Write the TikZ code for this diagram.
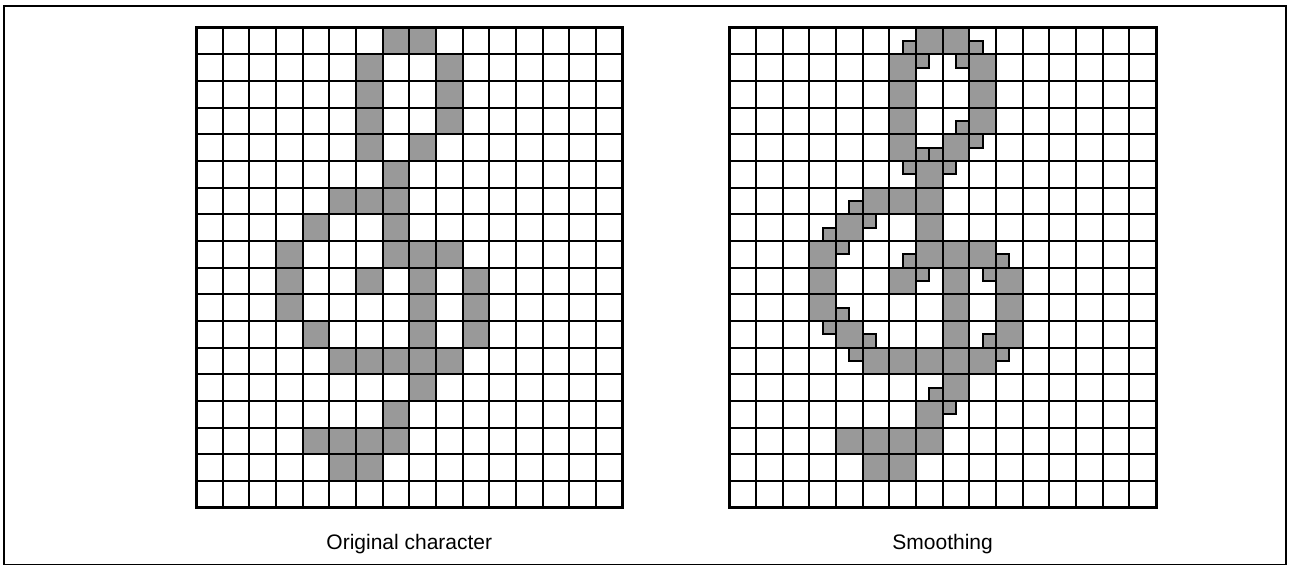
\documentclass[tikz,border=0pt]{standalone}
\usepackage{fontspec}
\setmainfont{Liberation Sans}
\colorlet{pixgray}{black!40}
\tikzset{
  pix/.style={fill=pixgray},
  subpix/.style={fill=pixgray, draw=black, line width=1.1pt},
  gridlines/.style={draw=black, line width=1.1pt},
  gridborder/.style={draw=black, line width=1.6pt},
  caption/.style={font=\fontsize{11.2}{13}\selectfont}
}
\begin{document}
\begin{tikzpicture}[x=0.5cm, y=0.5cm]
    \useasboundingbox (0,0) rectangle (48.375,21.3);
    \draw[line width=1pt] (0.15,0.13) rectangle (48.23,21.08);

    \begin{scope}[shift={(7.35,20.26)}, yscale=-1]
        \foreach \c/\r in {7/0,8/0,6/1,9/1,6/2,9/2,6/3,9/3,6/4,8/4,7/5,5/6,6/6,7/6,4/7,7/7,
                           3/8,7/8,8/8,9/8,3/9,6/9,8/9,10/9,3/10,8/10,10/10,4/11,8/11,10/11,
                           5/12,6/12,7/12,8/12,9/12,8/13,7/14,4/15,5/15,6/15,7/15,5/16,6/16}
            \fill[pix] (\c,\r) rectangle ++(1,1);
        \draw[gridlines, step=0.5cm] (0,0) grid (16,18);
        \draw[gridborder] (0,0) rectangle (16,18);
    \end{scope}

    \begin{scope}[shift={(27.35,20.26)}, yscale=-1]
        \foreach \c/\r in {7/0,8/0,6/1,9/1,6/2,9/2,6/3,9/3,6/4,8/4,7/5,5/6,6/6,7/6,4/7,7/7,
                           3/8,7/8,8/8,9/8,3/9,6/9,8/9,10/9,3/10,8/10,10/10,4/11,8/11,10/11,
                           5/12,6/12,7/12,8/12,9/12,8/13,7/14,4/15,5/15,6/15,7/15,5/16,6/16}
            \fill[pix] (\c,\r) rectangle ++(1,1);
        \foreach \x/\y in {6.5/0.5,9/0.5,7/1,8.5/1,8.5/3.5,9/4,7/4.5,7.5/4.5,6.5/5,8/5,
                           4.5/6.5,5/7,3.5/7.5,4/8,6.5/8.5,10/8.5,7/9,9.5/9,4/10.5,
                           3.5/11,5/11.5,9.5/11.5,4.5/12,10/12,7.5/13.5,8/14}
            \filldraw[subpix] (\x,\y) rectangle ++(0.5,0.5);
        \draw[gridlines, step=0.5cm] (0,0) grid (16,18);
        \draw[gridborder] (0,0) rectangle (16,18);
    \end{scope}

    \node[caption] (orig) at (15.35,0.9) {Original character};
    \node[caption] (smooth) at (35.35,0.9) {Smoothing};
\end{tikzpicture}
\end{document}
